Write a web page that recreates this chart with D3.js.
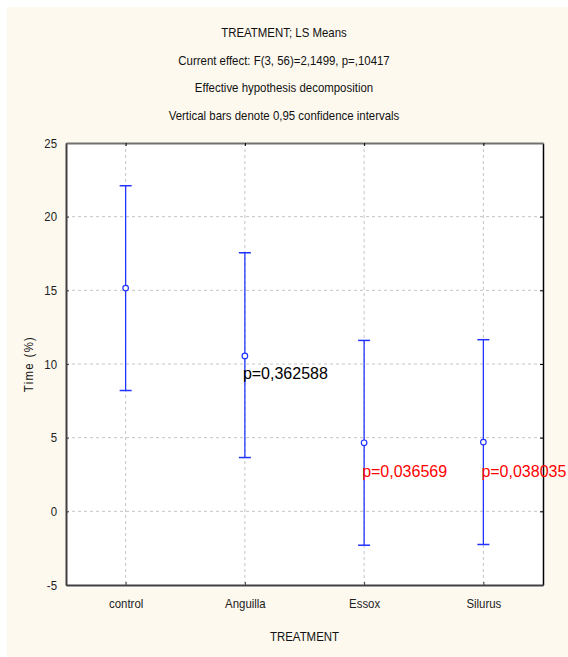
<!DOCTYPE html>
<html>
<head>
<meta charset="utf-8">
<script src="https://cdn.jsdelivr.net/npm/d3@7"></script>
<style>
    body { margin: 0; background: #ffffff; }
    svg { display: block; }
    text { font-family: "Liberation Sans", Arial, sans-serif; }
</style>
</head>
<body>
<div id="chart"></div>
<script>
// data
const categories = ['control', 'Anguilla', 'Essox', 'Silurus'];
const means = [15.15, 10.55, 4.65, 4.7];
const lowerCI = [8.2, 3.65, -2.3, -2.25];
const upperCI = [22.1, 17.55, 11.6, 11.65];
const yTicks = [-5, 0, 5, 10, 15, 20, 25];
const titleLines = [
    'TREATMENT; LS Means',
    'Current effect: F(3, 56)=2,1499, p=,10417',
    'Effective hypothesis decomposition',
    'Vertical bars denote 0,95 confidence intervals'
];
const pLabels = [
    { cat: 'Anguilla', value: 'p=0,362588', color: '#000000', y: 9.3 },
    { cat: 'Essox', value: 'p=0,036569', color: '#ff0000', y: 2.7 },
    { cat: 'Silurus', value: 'p=0,038035', color: '#ff0000', y: 2.7 }
];

// no narrow font installed, so squeeze text horizontally
const squeeze = 0.88;

function narrowText(sel, x, y) {
    return sel.attr('transform', `translate(${x},${y}) scale(${squeeze},1)`);
}

function renderChart() {
    const width = 568, height = 657;
    const plot = { left: 66, right: 543, top: 143, bottom: 585 };

    const svg = d3.select('#chart')
        .append('svg')
        .attr('width', width)
        .attr('height', height);

    // cream page background
    svg.append('rect')
        .attr('x', 7).attr('y', 7)
        .attr('width', width - 7).attr('height', height - 7)
        .attr('fill', '#fdf9ef');

    // plot area
    svg.append('rect')
        .attr('x', plot.left).attr('y', plot.top)
        .attr('width', plot.right - plot.left + 2)
        .attr('height', plot.bottom - plot.top + 3)
        .attr('fill', '#ffffff');

    const x = d3.scalePoint()
        .domain(categories)
        .range([plot.left, plot.right])
        .padding(0.5);

    const y = d3.scaleLinear()
        .domain([-5, 25])
        .range([plot.bottom, plot.top]);

    // grid lines
    svg.append('g')
        .selectAll('line')
        .data(yTicks.slice(1, -1))
        .enter()
        .append('line')
        .attr('x1', plot.left).attr('x2', plot.right)
        .attr('y1', d => y(d)).attr('y2', d => y(d))
        .attr('stroke', '#c4c4c4')
        .attr('stroke-dasharray', '3,3');

    svg.append('g')
        .selectAll('line')
        .data(categories)
        .enter()
        .append('line')
        .attr('x1', d => x(d)).attr('x2', d => x(d))
        .attr('y1', plot.top).attr('y2', plot.bottom)
        .attr('stroke', '#c4c4c4')
        .attr('stroke-dasharray', '3,3');

    // axes with inward ticks
    const yAxis = svg.append('g')
        .attr('transform', `translate(${plot.left},0)`)
        .call(d3.axisLeft(y).tickValues(yTicks).tickFormat(d => String(d))
            .tickSizeInner(-3).tickSizeOuter(0).tickPadding(9));
    yAxis.select('.domain').attr('stroke', '#404040').attr('stroke-width', 2);
    yAxis.selectAll('.tick line').attr('stroke', '#404040');
    yAxis.selectAll('.tick text')
        .attr('font-size', 13).attr('fill', '#222').attr('font-family', null)
        .attr('transform', `translate(-9,0) scale(${squeeze},1)`).attr('x', 0);

    const yAxisRight = svg.append('g')
        .attr('transform', `translate(${plot.right},0)`)
        .call(d3.axisRight(y).tickValues(yTicks).tickSizeInner(-3).tickSizeOuter(0).tickFormat(''));
    yAxisRight.select('.domain').attr('stroke', '#000').attr('stroke-width', 1.5);

    const xAxis = svg.append('g')
        .attr('transform', `translate(0,${plot.bottom})`)
        .call(d3.axisBottom(x).tickSizeInner(-3).tickSizeOuter(0).tickPadding(14));
    xAxis.select('.domain').attr('stroke', '#404040').attr('stroke-width', 2);
    xAxis.selectAll('.tick line').attr('stroke', '#404040');
    xAxis.selectAll('.tick text')
        .attr('font-size', 13).attr('fill', '#222').attr('font-family', null)
        .attr('transform', `scale(${squeeze},1)`).attr('x', 0);

    const xAxisTop = svg.append('g')
        .attr('transform', `translate(0,${plot.top})`)
        .call(d3.axisTop(x).tickSizeInner(-3).tickSizeOuter(0).tickFormat(''));
    xAxisTop.select('.domain').attr('stroke', '#707070').attr('stroke-width', 2);

    // error bars
    const bars = svg.append('g');
    categories.forEach((c, i) => {
        bars.append('line')
            .attr('x1', x(c)).attr('x2', x(c))
            .attr('y1', y(lowerCI[i])).attr('y2', y(upperCI[i]))
            .attr('stroke', '#2233ff').attr('stroke-width', 1.3);
        [lowerCI[i], upperCI[i]].forEach(v => {
            bars.append('line')
                .attr('x1', x(c) - 6).attr('x2', x(c) + 6)
                .attr('y1', y(v)).attr('y2', y(v))
                .attr('stroke', '#2233ff').attr('stroke-width', 1.5);
        });
    });

    bars.selectAll('circle')
        .data(categories)
        .enter()
        .append('circle')
        .attr('cx', d => x(d))
        .attr('cy', (d, i) => y(means[i]))
        .attr('r', 2.8)
        .attr('fill', '#ffffff')
        .attr('stroke', '#2233ff')
        .attr('stroke-width', 1.2);

    // p-value annotations
    svg.append('g')
        .selectAll('text')
        .data(pLabels)
        .enter()
        .append('text')
        .attr('x', d => x(d.cat) - 2)
        .attr('y', d => y(d.y) + 5)
        .attr('font-size', 16)
        .attr('fill', d => d.color)
        .text(d => d.value);

    // titles
    svg.append('g')
        .selectAll('text')
        .data(titleLines)
        .enter()
        .append('text')
        .each(function (d, i) { narrowText(d3.select(this), 284, 37 + i * 27.5); })
        .attr('text-anchor', 'middle')
        .attr('font-size', 13)
        .attr('fill', '#111')
        .text(d => d);

    // axis titles
    narrowText(svg.append('text'), (plot.left + plot.right) / 2, 641)
        .attr('text-anchor', 'middle')
        .attr('font-size', 13)
        .attr('fill', '#111')
        .text('TREATMENT');

    svg.append('text')
        .attr('transform', `translate(33,${(plot.top + plot.bottom) / 2}) rotate(-90) scale(${squeeze},1)`)
        .attr('text-anchor', 'middle')
        .attr('font-size', 13)
        .attr('letter-spacing', 1.5)
        .attr('fill', '#111')
        .text('Time (%)');
}

window.onload = renderChart;
</script>
</body>
</html>
